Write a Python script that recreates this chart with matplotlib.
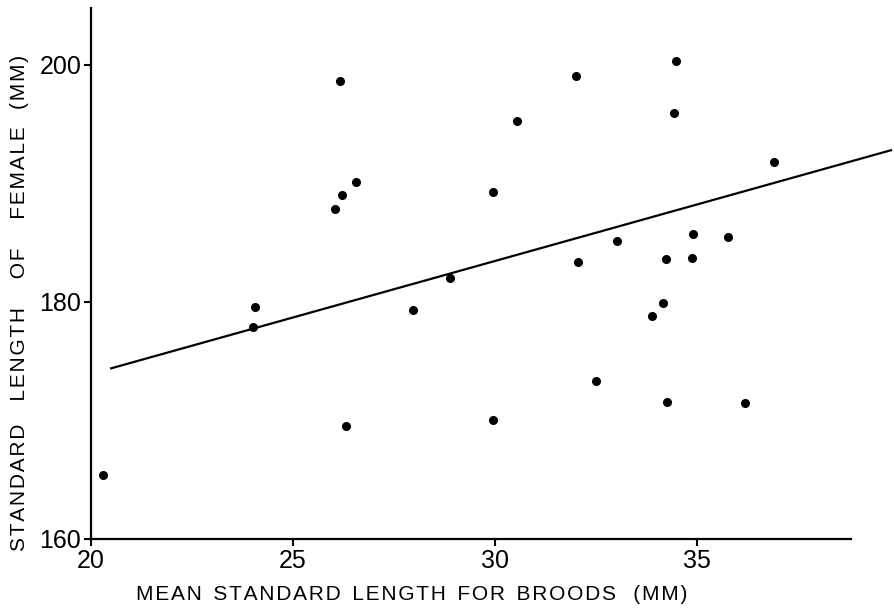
import numpy as np
import matplotlib.pyplot as plt

plt.rcParams['font.family'] = ['Liberation Sans', 'DejaVu Sans']

# mean standard length for broods (mm) vs standard length of female (mm)
brood_len = [20.3, 24.06, 24.0, 26.16, 26.56, 26.21, 26.04, 29.95, 30.54, 32.0,
             32.05, 28.89, 34.48, 34.43, 36.9, 33.02, 34.9, 35.77, 34.23, 34.88,
             34.16, 33.89, 34.26, 36.19, 27.97, 26.31, 29.95, 32.5]
female_len = [165.4, 179.6, 177.9, 198.6, 190.1, 189.0, 187.8, 189.3, 195.3, 199.1,
              183.4, 182.0, 200.3, 195.9, 191.8, 185.1, 185.7, 185.5, 183.6, 183.7,
              179.9, 178.8, 171.6, 171.5, 179.3, 169.5, 170.0, 173.3]

# regression line end points
fit_x = [20.5, 39.8]
fit_y = [174.4, 192.8]

xticks = [20, 25, 30, 35]
yticks = [160, 180, 200]

xlabel_words = ['MEAN', 'STANDARD', 'LENGTH', 'FOR', 'BROODS', '(MM)']
ylabel_words = ['STANDARD', 'LENGTH', 'OF', 'FEMALE', '(MM)']

HS = '\u200a'  # hair space, used as letter spacing


def spaced(words, gaps):
    out = HS.join(words[0])
    for w, g in zip(words[1:], gaps):
        out += ' ' * g + HS.join(w)
    return out


fig = plt.figure(figsize=(8.95, 6.08), dpi=100)
ax = fig.add_axes([91/895, 69/608, 804/895, 531/608])

ax.plot(brood_len, female_len, 'o', ms=5.5, color='black', clip_on=False)
ax.plot(fit_x, fit_y, '-', color='black', lw=1.6, clip_on=False)

ax.set_xlim(20, 39.9)
ax.set_ylim(160, 204.8)
ax.spines['top'].set_visible(False)
ax.spines['right'].set_visible(False)
ax.spines['bottom'].set_bounds(20, 38.8)
for s in ['left', 'bottom']:
    ax.spines[s].set_linewidth(1.6)

ax.set_xticks(xticks)
ax.set_yticks(yticks)
ax.tick_params(direction='out', length=5, width=1.5, labelsize=18, pad=2)

fig.text(412/895, 1 - 594/608, spaced(xlabel_words, [2, 2, 2, 2, 3]),
         ha='center', va='center', fontsize=15)
fig.text(20/895, 1 - 303/608, spaced(ylabel_words, [4, 5, 5, 3]),
         ha='center', va='center', fontsize=15, rotation=90)

fig.savefig('out.png', dpi=100)
